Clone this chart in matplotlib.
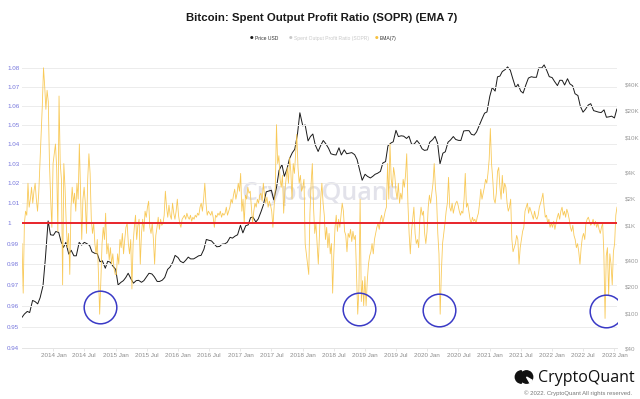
"""
Bitcoin: Spent Output Profit Ratio (SOPR) (EMA 7) against the USD price
"""

import pandas as pd
import matplotlib
matplotlib.use("Agg")
import matplotlib.pyplot as plt
import matplotlib.dates as mdates
import matplotlib.ticker as mticker
from matplotlib.patches import Circle, Wedge

plt.rcParams['font.family'] = ['Liberation Sans', 'DejaVu Sans']

# SOPR EMA(7), one value per week (Mondays from 2013-07-01), one list per year
sopr_2013 = [0.990, 0.966, 1.000, 1.006, 1.004,
             1.020, 1.008, 1.012, 1.018,
             1.010, 1.016, 1.020, 1.012, 1.006,
             1.015, 1.030, 1.045, 1.060,
             1.080, 1.070, 1.058, 1.068,
             1.062, 1.030, 1.012, 0.998, 1.030]
sopr_2014 = [1.035, 1.040, 1.028, 0.996,
             1.065, 1.030, 1.022, 0.970,
             1.030, 1.018, 1.000, 0.988, 0.995,
             0.975, 1.008, 1.018, 1.010,
             1.015, 1.006, 1.020, 1.012,
             1.040, 1.015, 0.992, 1.012, 1.018,
             1.010, 0.995, 1.022, 1.035,
             1.025, 1.002, 0.995, 1.000,
             0.990, 0.985, 0.992, 0.975, 0.956,
             0.972, 0.990, 0.998, 0.992,
             1.005, 0.985, 0.990, 0.982,
             0.988, 0.980, 0.985, 0.978, 0.975]
sopr_2015 = [0.975, 0.985, 0.980, 0.992,
             0.988, 0.995, 0.985, 0.992,
             0.998, 1.000, 0.990, 0.985, 0.992,
             0.968, 0.990, 0.998, 1.004,
             0.992, 0.999, 1.002, 0.980,
             0.995, 1.002, 0.996, 1.006, 1.003,
             1.008, 1.011, 0.998, 0.995,
             1.000, 0.992, 0.980, 0.994,
             0.998, 1.003, 0.997, 1.002, 0.999,
             1.000, 1.004, 1.016, 1.008,
             1.003, 1.009, 1.004, 1.002,
             1.010, 1.005, 1.002, 1.006, 1.012]
sopr_2016 = [1.004, 1.000, 0.998, 1.002,
             1.003, 1.004, 1.002, 1.005,
             1.003, 1.002, 1.004, 1.001, 1.003,
             1.002, 1.004, 1.003, 1.005,
             1.004, 1.008, 1.010, 1.006,
             1.012, 1.020, 1.010, 1.004, 1.006,
             1.005, 1.004, 1.006, 1.003,
             0.998, 1.004, 1.003, 1.005,
             1.004, 1.006, 1.003, 1.005, 1.004,
             1.005, 1.008, 1.004, 1.006,
             1.008, 1.012, 1.010, 1.014,
             1.017, 1.012, 1.015, 1.020, 1.016]
sopr_2017 = [1.025, 1.006, 1.012, 1.000,
             1.014, 1.012, 1.018, 1.015,
             1.016, 1.008, 1.000, 1.006, 1.010,
             1.008, 1.012, 1.010, 1.014,
             1.015, 1.011, 1.020, 1.014,
             1.010, 1.013, 1.008, 1.011, 1.009,
             1.006, 0.998, 1.008, 1.018,
             1.050, 1.030, 1.034, 1.022,
             1.018, 1.024, 1.005, 1.016, 1.022,
             1.028, 1.020, 1.033, 1.026,
             1.012, 1.030, 1.025, 1.035,
             1.045, 1.028, 1.020, 1.024, 1.016]
sopr_2018 = [1.018, 1.022, 0.990, 0.985, 0.980,
             0.975, 1.005, 1.020, 1.030,
             1.008, 0.995, 1.000, 0.990,
             0.980, 0.995, 1.012, 1.020, 1.010,
             1.004, 0.992, 0.998, 0.988,
             0.995, 0.985, 0.990, 0.966,
             0.985, 0.998, 1.004, 0.996, 1.002,
             0.998, 1.004, 1.010, 1.006,
             0.996, 0.994, 0.986, 0.995,
             0.993, 0.997, 0.991, 0.996, 0.992,
             0.994, 0.975, 0.956, 0.968,
             1.012, 0.962, 0.972, 0.960, 0.974]
sopr_2019 = [0.960, 0.972, 0.980, 0.984,
             0.986, 0.990, 0.985, 0.992,
             0.995, 0.998, 1.000, 0.997, 1.002,
             1.004, 1.000, 1.003, 1.006,
             1.008, 1.030, 1.012, 1.040,
             1.022, 1.018, 1.028, 1.024, 1.016,
             1.012, 1.020, 1.010, 1.015,
             1.012, 1.022, 1.018, 1.024,
             1.035, 1.010, 0.995, 0.985, 0.996,
             1.002, 1.008, 0.995, 0.990,
             0.992, 0.988, 1.002, 1.008,
             1.004, 1.006, 0.995, 0.990, 0.996]
sopr_2020 = [1.008, 1.014, 1.010, 1.015,
             1.020, 1.030, 1.018, 1.012,
             0.995, 0.985, 0.956, 0.976, 0.990,
             0.995, 1.000, 1.006, 1.010,
             1.023, 1.008, 1.006, 1.010,
             1.005, 1.008, 1.010, 1.011, 1.009,
             1.006, 1.004, 1.006, 1.005,
             1.012, 1.025, 1.008, 1.010,
             1.006, 1.002, 1.000, 1.003, 1.001,
             1.002, 1.000, 1.003, 1.005,
             1.010, 1.017, 1.012, 1.015,
             1.018, 1.022, 1.020, 1.025, 1.032]
sopr_2021 = [1.048, 1.030, 1.022, 1.012,
             1.010, 1.015, 1.026, 1.028,
             1.018, 1.012, 1.024, 1.015, 1.020,
             1.018, 1.010, 1.006, 1.008,
             1.012, 0.992, 0.986, 0.988,
             0.990, 0.994, 0.992, 0.980, 0.988,
             0.992, 0.996, 0.998, 1.006,
             1.008, 1.010, 1.005, 1.008,
             1.006, 1.004, 1.002, 1.006, 1.003,
             1.002, 1.004, 1.008, 1.010,
             1.012, 1.015, 1.008, 1.003,
             1.004, 1.000, 1.002, 0.998, 1.000]
sopr_2022 = [0.998, 1.001, 0.997, 1.000,
             1.003, 1.005, 1.002, 1.006,
             1.008, 1.004, 1.006, 1.003, 1.007,
             1.005, 1.002, 0.998, 0.996,
             0.999, 0.994, 0.992, 0.988,
             0.990, 0.986, 0.980, 0.988, 0.993,
             0.995, 0.992, 1.000, 1.002,
             1.003, 1.001, 0.999, 1.000,
             1.002, 0.999, 1.001, 0.998, 1.000,
             0.997, 0.995, 0.998, 1.000,
             0.985, 0.954, 0.984, 0.988,
             0.965, 0.985, 0.980, 0.970, 0.986]
sopr_2023 = [0.990, 1.004, 1.008]

# BTC price in USD on the 1st and 15th of each month, from 2013-07-01
price_2013 = [90, 98, 105, 102, 140, 136, 128, 150, 205, 420, 1120, 780]
price_2014 = [770, 850, 830, 650, 560, 640, 470, 520, 450, 450, 640, 595,
              640, 620, 590, 500, 480, 475, 385, 395, 325, 390, 380, 345]
price_2015 = [315, 210, 225, 235, 255, 285, 245, 220, 235, 237, 225, 235,
              260, 285, 280, 260, 230, 230, 238, 255, 315, 335, 380, 455]
price_2016 = [430, 390, 375, 400, 435, 415, 415, 430, 450, 455, 535, 690,
              675, 665, 610, 570, 575, 610, 615, 640, 730, 715, 755, 780]
price_2017 = [1000, 820, 990, 1010, 1220, 1240, 1090, 1180, 1420, 1700, 2400, 2450,
              2500, 1950, 2750, 4200, 4900, 3600, 4400, 5700, 6700, 7300, 10900, 19000]
price_2018 = [13500, 13800, 9100, 10200, 10900, 8200, 6900, 8000, 9200, 8500, 7500, 6500,
              6350, 6300, 7600, 6300, 7200, 6500, 6600, 6700, 6350, 5600, 4200, 3250]
price_2019 = [3800, 3600, 3450, 3600, 3800, 3900, 4100, 5100, 5300, 8000, 8600, 8900,
              12000, 10200, 10400, 10300, 9700, 10300, 8300, 8350, 9200, 8500, 7400, 7100]
price_2020 = [7200, 8800, 9400, 10250, 8550, 5000, 6600, 6850, 8800, 9300, 10200, 9450,
              9230, 9200, 11800, 11900, 11900, 10800, 10600, 11500, 13800, 16000, 18800, 19400]
price_2021 = [29400, 36800, 33500, 48700, 49600, 55900, 58900, 63100, 57800, 46700, 36700, 40100,
              33500, 31800, 39900, 47100, 48800, 48100, 48100, 61600, 61300, 66500, 57200, 48900]
price_2022 = [47700, 43100, 38700, 44500, 44400, 39300, 46300, 40500, 38500, 31300, 29800, 22600,
              19300, 20800, 23300, 24100, 20100, 19700, 19300, 19100, 20500, 16900, 17100, 17400]
price_2023 = [16600, 20900]

# the four capitulation lows circled on the chart
circle_dates = ['2014-10-03', '2018-11-25', '2020-03-07', '2022-11-15']
circle_levels = [0.9596, 0.9585, 0.958, 0.9575]

sopr_ticks = [0.94, 0.95, 0.96, 0.97, 0.98, 0.99, 1.0,
              1.01, 1.02, 1.03, 1.04, 1.05, 1.06, 1.07, 1.08]
price_ticks = [40, 100, 200, 400, 1000, 2000, 4000, 10000, 20000, 40000]
price_labels = ['$40', '$100', '$200', '$400', '$1K', '$2K', '$4K', '$10K', '$20K', '$40K']
date_ticks = pd.date_range('2014-01-01', '2023-01-01', freq='6MS')


def build_series():
    sopr = (sopr_2013 + sopr_2014 + sopr_2015 + sopr_2016 + sopr_2017 + sopr_2018
            + sopr_2019 + sopr_2020 + sopr_2021 + sopr_2022 + sopr_2023)
    price = (price_2013 + price_2014 + price_2015 + price_2016 + price_2017 + price_2018
             + price_2019 + price_2020 + price_2021 + price_2022 + price_2023)
    sopr = pd.Series(sopr, index=pd.date_range('2013-07-01', periods=len(sopr), freq='7D'))
    price = pd.Series(price, index=pd.date_range('2013-07-01', periods=len(price), freq='SMS'))
    return sopr, price


def sopr_fmt(v, pos):
    return '1' if abs(v - 1) < 1e-9 else '%.2f' % v


def plot_sopr(sopr, price, outfile):
    fig = plt.figure(figsize=(6.4, 3.99), dpi=100)
    ax = fig.add_axes([22 / 640, 1 - 348.3 / 399, 595 / 640, 289.3 / 399])
    ax2 = ax.twinx()
    ax.set_zorder(ax2.get_zorder() + 1)
    ax.patch.set_visible(False)

    # right axis: price, log scale
    ax2.plot(price.index, price.values, color='#1a1a1a', lw=0.7)
    ax2.set_yscale('log')
    ax2.set_ylim(40, 77600)
    ax2.yaxis.set_major_locator(mticker.FixedLocator(price_ticks))
    ax2.yaxis.set_major_formatter(mticker.FixedFormatter(price_labels))
    ax2.yaxis.set_minor_locator(mticker.NullLocator())
    ax2.tick_params(axis='y', length=0, pad=5.5, labelsize=4.5, labelcolor='#9a9a9a')
    ax2.text(0.5, 0.535, 'CryptoQuant', transform=ax2.transAxes, ha='center', va='center',
             fontsize=18, color='#e2e2ea', family='Open Sans', weight='semibold', zorder=0)

    # left axis: SOPR EMA(7), log scale
    ax.plot(sopr.index, sopr.values, color='#f8c447', lw=0.6, alpha=0.9)
    ax.axhline(1.0, color='#e8242a', lw=1.4, zorder=4)
    ax.plot(pd.to_datetime(circle_dates), circle_levels, 'o', ms=23.5, mfc='none',
            mec='#3a3ac6', mew=1.1, zorder=5)
    ax.set_yscale('log')
    ax.set_ylim(0.94, 1.0847)
    ax.yaxis.set_major_locator(mticker.FixedLocator(sopr_ticks))
    ax.yaxis.set_major_formatter(mticker.FuncFormatter(sopr_fmt))
    ax.yaxis.set_minor_locator(mticker.NullLocator())
    ax.tick_params(axis='y', length=0, pad=10.8, labelsize=4.5, labelcolor='#7474dc')
    for lab in ax.get_yticklabels():
        lab.set_horizontalalignment('left')
    ax.grid(axis='y', color='#ececec', lw=0.7)
    ax.set_axisbelow(True)

    ax.set_xlim(pd.Timestamp('2013-07-01'), pd.Timestamp('2023-01-16'))
    ax.xaxis.set_major_locator(mticker.FixedLocator(mdates.date2num(date_ticks)))
    ax.xaxis.set_major_formatter(mdates.DateFormatter('%Y %b'))
    ax.tick_params(axis='x', length=2, width=0.5, color='#dddddd', pad=1.5,
                   labelsize=4.5, labelcolor='#8c8c8c')

    for a in (ax, ax2):
        for s in a.spines.values():
            s.set_visible(False)
    ax.spines['bottom'].set_visible(True)
    ax.spines['bottom'].set_color('#e4e4e4')
    ax.spines['bottom'].set_linewidth(0.7)

    fig.text(321.5 / 640, 1 - 18.3 / 399, 'Bitcoin: Spent Output Profit Ratio (SOPR) (EMA 7)',
             ha='center', va='center', fontsize=8.2, weight='bold', color='#1a1a1a')

    # legend row
    legend_items = [(252, 'Price USD', '#1a1a1a', '#333333'),
                    (291, 'Spent Output Profit Ratio (SOPR)', '#c8c8c8', '#c8c8c8'),
                    (377, 'EMA(7)', '#f7c13f', '#333333')]
    for x, label, dot, txt in legend_items:
        fig.text(x / 640, 1 - 38.3 / 399, '\u25cf', color=dot, fontsize=3,
                 ha='center', va='center', family='DejaVu Sans')
        fig.text((x + 3) / 640, 1 - 38.3 / 399, label, color=txt, fontsize=3.6,
                 ha='left', va='center')

    # brand mark bottom right
    fig.patches.append(Wedge((5.215, 0.22), 0.062, 90, 270, color='#111111',
                             transform=fig.dpi_scale_trans, figure=fig))
    fig.patches.append(Circle((5.265, 0.22), 0.062, color='#111111',
                              transform=fig.dpi_scale_trans, figure=fig))
    fig.patches.append(Wedge((5.265, 0.22), 0.066, 300, 330, color='white',
                             transform=fig.dpi_scale_trans, figure=fig))
    fig.text(538 / 640, 1 - 377.5 / 399, 'CryptoQuant', fontsize=11.5, color='#111111',
             ha='left', va='center', family='Open Sans')
    fig.text(632 / 640, 1 - 393.5 / 399, '\u00a9 2022. CryptoQuant All rights reserved.',
             fontsize=4.3, color='#777777', ha='right', va='center')

    fig.savefig(outfile, dpi=100)


if __name__ == "__main__":
    sopr, price = build_series()
    plot_sopr(sopr, price, 'out.png')
